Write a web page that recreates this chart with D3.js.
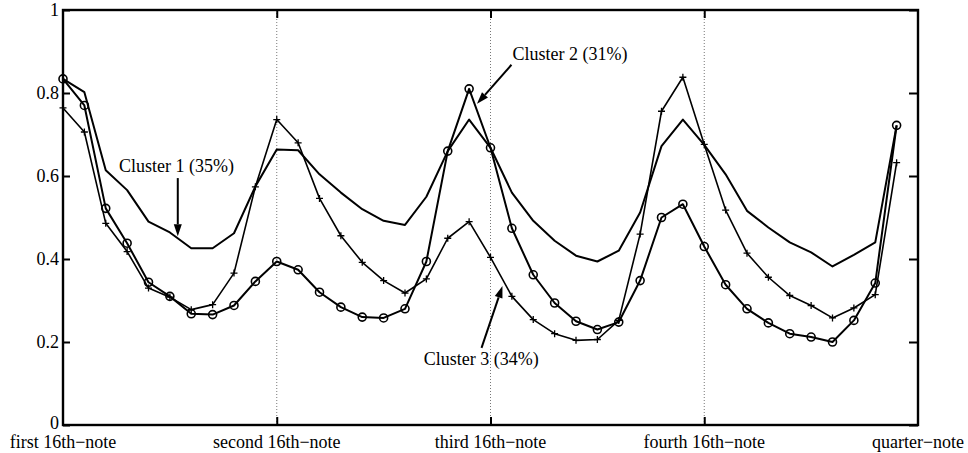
<!DOCTYPE html>
<html><head><meta charset="utf-8">
<script src="https://cdn.jsdelivr.net/npm/d3@7"></script>
<style>
html,body{margin:0;padding:0;background:#fff;}
svg{display:block;}
text{font-family:"Liberation Serif","Times New Roman",serif;fill:#000;}
</style></head>
<body>
<svg id="chart" width="968" height="453"></svg>
<script>
// ---- data ----
const xTickIndex = [0, 10, 20, 30, 40];
const xTickLabels = ["first 16th\u2212note", "second 16th\u2212note", "third 16th\u2212note", "fourth 16th\u2212note", "quarter\u2212note"];
const yTicks = [0, 0.2, 0.4, 0.6, 0.8, 1];
const gridIndex = [10, 20, 30];

const cluster1 = [0.834,0.802,0.614,0.566,0.490,0.464,0.426,0.426,0.462,0.575,
                  0.664,0.662,0.604,0.560,0.520,0.492,0.482,0.550,0.660,0.736,
                  0.668,0.560,0.492,0.444,0.408,0.394,0.420,0.512,0.672,0.736,
                  0.675,0.604,0.516,0.476,0.440,0.416,0.382,0.410,0.440,0.722];
const cluster2 = [0.834,0.770,0.522,0.438,0.344,0.310,0.268,0.266,0.288,0.346,
                  0.394,0.374,0.320,0.284,0.260,0.258,0.280,0.394,0.660,0.810,
                  0.668,0.474,0.362,0.294,0.250,0.230,0.248,0.348,0.500,0.532,
                  0.430,0.338,0.280,0.246,0.220,0.212,0.200,0.252,0.342,0.722];
const cluster3 = [0.764,0.706,0.486,0.418,0.330,0.308,0.278,0.290,0.366,0.574,
                  0.736,0.680,0.546,0.456,0.392,0.348,0.318,0.352,0.450,0.490,
                  0.404,0.310,0.254,0.220,0.204,0.206,0.252,0.460,0.756,0.838,
                  0.676,0.518,0.414,0.356,0.312,0.288,0.258,0.282,0.314,0.632];

const annotations = [
  {text:"Cluster 1 (35%)", tx:2.62, ty:0.610, from:[5.37,0.595], to:[5.37,0.455]},
  {text:"Cluster 2 (31%)", tx:21.03, ty:0.880, from:[20.98,0.868], to:[19.37,0.774]},
  {text:"Cluster 3 (34%)", tx:16.88, ty:0.144, from:[19.58,0.186], to:[20.56,0.335]}
];

// ---- layout ----
const W = 968, H = 453;
const m = {left:63, right:50, top:10, bottom:28};
const svg = d3.select("#chart");
const x = d3.scaleLinear().domain([0, 40]).range([m.left, W - m.right]);
const y = d3.scaleLinear().domain([0, 1]).range([H - m.bottom, m.top]);

// dotted grid lines
svg.append("g").selectAll("line").data(gridIndex).join("line")
  .attr("x1", d => x(d)).attr("x2", d => x(d))
  .attr("y1", y(1)).attr("y2", y(0))
  .attr("stroke", "#777").attr("stroke-width", 1).attr("stroke-dasharray", "1,2");

// axes (inward ticks)
const tickLen = 8;
const gB = svg.append("g").attr("transform", `translate(0,${y(0)})`)
  .call(d3.axisBottom(x).tickValues(gridIndex).tickSize(-tickLen).tickFormat(""));
const gT = svg.append("g").attr("transform", `translate(0,${y(1)})`)
  .call(d3.axisTop(x).tickValues(gridIndex).tickSize(-tickLen).tickFormat(""));
const gL = svg.append("g").attr("transform", `translate(${x(0)},0)`)
  .call(d3.axisLeft(y).tickValues(yTicks).tickSize(-7).tickFormat(""));
const gR = svg.append("g").attr("transform", `translate(${x(40)},0)`)
  .call(d3.axisRight(y).tickValues(yTicks).tickSize(-9).tickFormat(""));
[gB, gT, gL, gR].forEach(g => {
  g.select(".domain").remove();
  g.selectAll(".tick line").attr("stroke", "#000").attr("stroke-width", 2);
});

// frame
svg.append("rect").attr("x", x(0)).attr("y", y(1))
  .attr("width", x(40) - x(0)).attr("height", y(0) - y(1))
  .attr("fill", "none").attr("stroke", "#000").attr("stroke-width", 2.4);

// y tick labels
svg.append("g").selectAll("text").data(yTicks).join("text")
  .attr("x", x(0) - 4).attr("y", d => d === 0 ? y(d) + 4 : y(d) + 6)
  .attr("text-anchor", "end").attr("font-size", 18)
  .text(d => d === 0 ? "0" : d === 1 ? "1" : d3.format(".1f")(d));

// x tick labels
svg.append("g").selectAll("text").data(xTickIndex).join("text")
  .attr("x", d => x(d)).attr("y", 448)
  .attr("text-anchor", "middle").attr("font-size", 18)
  .text((d, i) => xTickLabels[i]);

// series
const line = d3.line().x((d, i) => x(i)).y(d => y(d));
svg.append("path").datum(cluster1).attr("d", line)
  .attr("fill", "none").attr("stroke", "#000").attr("stroke-width", 2).attr("stroke-linejoin", "round");
svg.append("path").datum(cluster3).attr("d", line)
  .attr("fill", "none").attr("stroke", "#000").attr("stroke-width", 1.6).attr("stroke-linejoin", "round");
svg.append("path").datum(cluster2).attr("d", line)
  .attr("fill", "none").attr("stroke", "#000").attr("stroke-width", 2).attr("stroke-linejoin", "round");

// plus markers
const ps = 3.5;
svg.append("g").selectAll("path").data(cluster3).join("path")
  .attr("d", (d, i) => `M${x(i)-ps},${y(d)}H${x(i)+ps}M${x(i)},${y(d)-ps}V${y(d)+ps}`)
  .attr("stroke", "#000").attr("stroke-width", 1.3).attr("fill", "none");

// circle markers
svg.append("g").selectAll("circle").data(cluster2).join("circle")
  .attr("cx", (d, i) => x(i)).attr("cy", d => y(d)).attr("r", 4)
  .attr("fill", "none").attr("stroke", "#000").attr("stroke-width", 1.6);

// annotations
const ga = svg.append("g");
annotations.forEach(a => {
  ga.append("text").attr("x", x(a.tx)).attr("y", y(a.ty)).attr("font-size", 18).text(a.text);
  const x1 = x(a.from[0]), y1 = y(a.from[1]), x2 = x(a.to[0]), y2 = y(a.to[1]);
  const ang = Math.atan2(y2 - y1, x2 - x1);
  const L = 12, hw = 4;
  const bx = x2 - L * Math.cos(ang), by = y2 - L * Math.sin(ang);
  ga.append("line").attr("x1", x1).attr("y1", y1).attr("x2", bx).attr("y2", by)
    .attr("stroke", "#000").attr("stroke-width", 2);
  const px = -Math.sin(ang) * hw, py = Math.cos(ang) * hw;
  ga.append("path")
    .attr("d", `M${x2},${y2}L${bx+px},${by+py}L${bx-px},${by-py}Z`)
    .attr("fill", "#000");
});
</script>
</body></html>
